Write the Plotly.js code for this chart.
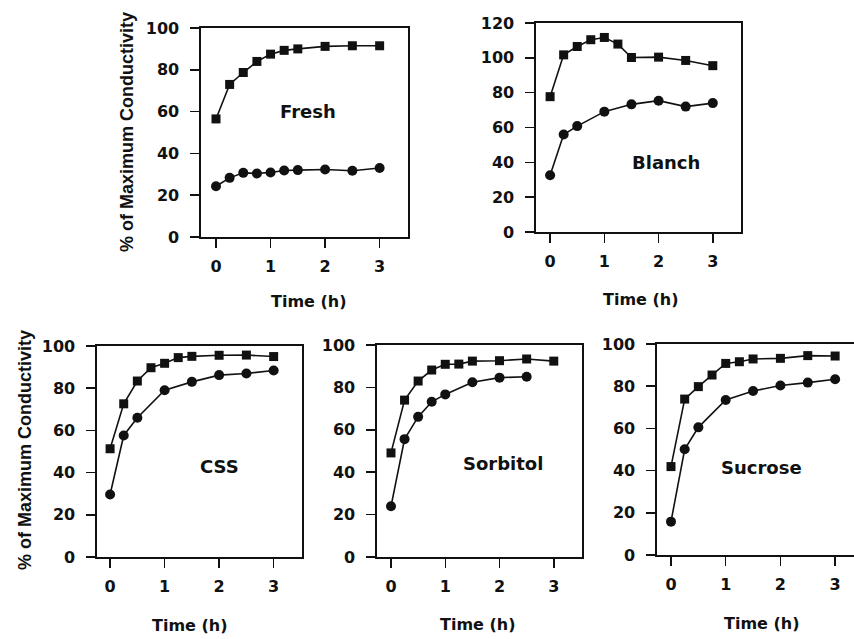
<!DOCTYPE html>
<html>
<head>
<meta charset="utf-8">
<script src="https://cdn.plot.ly/plotly-3.0.1.min.js"></script>
<style>html,body{margin:0;padding:0;background:#fff;}#chart{width:854px;height:639px;}</style>
</head>
<body>
<div id="chart"></div>
<script>
// ---- data ----
const timeSq = [0, 0.25, 0.5, 0.75, 1, 1.25, 1.5, 2, 2.5, 3];
const timeCirc = [0, 0.25, 0.5, 1, 1.5, 2, 2.5, 3];
const timeFreshCirc = [0, 0.25, 0.5, 0.75, 1, 1.25, 1.5, 2, 2.5, 3];
const timeSorbCirc = [0, 0.25, 0.5, 0.75, 1, 1.5, 2, 2.5];

const freshSq = [56.5, 73, 78.7, 84, 87.5, 89.3, 90, 91.2, 91.5, 91.5];
const freshCirc = [24.3, 28.3, 30.7, 30.4, 30.9, 31.8, 32, 32.3, 31.7, 33];
const blanchSq = [77.7, 101.7, 106.5, 110.4, 111.7, 107.9, 100.2, 100.4, 98.5, 95.5];
const blanchCirc = [32.6, 56, 60.8, 69.1, 73.3, 75.4, 72, 74];
const cssSq = [51.3, 72.6, 83.4, 89.7, 91.8, 94.5, 95.1, 95.6, 95.7, 95];
const cssCirc = [29.6, 57.6, 66, 79, 83, 86.2, 87, 88.4];
const sorbSq = [49.1, 74, 83, 88.2, 90.9, 91, 92.4, 92.6, 93.4, 92.4];
const sorbCirc = [23.9, 55.6, 66.1, 73.2, 76.7, 82.4, 84.6, 85];
const sucSq = [41.9, 73.9, 79.8, 85.3, 90.8, 91.6, 92.9, 93.2, 94.5, 94.3];
const sucCirc = [15.8, 50.1, 60.5, 73.5, 77.7, 80.3, 81.7, 83.3];

const panelNames = ['Fresh', 'Blanch', 'CSS', 'Sorbitol', 'Sucrose'];
const xTickVals = [0, 1, 2, 3];
const yTitle = '% of Maximum Conductivity';
const xTitle = 'Time (h)';

// ---- drawing ----
const W = 854, H = 639;
const ink = '#111';
function px(x) { return x / W; }
function py(y) { return 1 - y / H; }

const panels = [
  {sqx: timeSq, sqy: freshSq, cx: timeFreshCirc, cy: freshCirc, dom: [201, 408, 28, 237], xr: [-0.275, 3.52], yr: [0, 100], lab: [1.69, 60], tt: [309, 302]},
  {sqx: timeSq, sqy: blanchSq, cx: timeCirc, cy: blanchCirc, dom: [536, 741, 23, 232], xr: [-0.26, 3.52], yr: [0, 120], lab: [2.14, 40], tt: [641, 299]},
  {sqx: timeSq, sqy: cssSq, cx: timeCirc, cy: cssCirc, dom: [97, 302, 346, 557], xr: [-0.24, 3.52], yr: [0, 100], lab: [2.0, 43], tt: [190, 625]},
  {sqx: timeSq, sqy: sorbSq, cx: timeSorbCirc, cy: sorbCirc, dom: [377, 582, 345, 557], xr: [-0.258, 3.52], yr: [0, 100], lab: [2.06, 44.3], tt: [478, 624]},
  {sqx: timeSq, sqy: sucSq, cx: timeCirc, cy: sucCirc, dom: [657, 854, 344, 555], xr: [-0.256, 3.345], yr: [0, 100], lab: [1.66, 41.7], tt: [762, 623]}
];

const traces = [];
const layout = {
  width: W, height: H,
  margin: {l: 0, r: 0, t: 0, b: 0},
  paper_bgcolor: '#fff', plot_bgcolor: '#fff',
  showlegend: false,
  annotations: []
};
const tickFont = {family: 'DejaVu Sans', size: 16, color: ink, weight: 'bold'};

panels.forEach((p, i) => {
  const n = i === 0 ? '' : String(i + 1);
  const xa = 'x' + n, ya = 'y' + n;
  traces.push({x: p.sqx, y: p.sqy, xaxis: xa, yaxis: ya, type: 'scatter', mode: 'lines+markers',
    line: {color: ink, width: 1.6}, marker: {symbol: 'square', size: 9, color: ink}, cliponaxis: false});
  traces.push({x: p.cx, y: p.cy, xaxis: xa, yaxis: ya, type: 'scatter', mode: 'lines+markers',
    line: {color: ink, width: 1.6}, marker: {symbol: 'circle', size: 10, color: ink}, cliponaxis: false});
  const last = i === 4;
  layout['xaxis' + n] = {
    domain: [px(p.dom[0]), Math.min(1, px(p.dom[1]))], range: p.xr, anchor: ya,
    showline: true, linecolor: ink, linewidth: 1.6, mirror: true,
    ticks: 'outside', ticklen: 9, tickwidth: 1.5, tickcolor: ink,
    tickvals: xTickVals, tickfont: tickFont, ticklabelstandoff: 5,
    showgrid: false, zeroline: false, fixedrange: true
  };
  layout['yaxis' + n] = {
    domain: [py(p.dom[3]), py(p.dom[2])], range: p.yr, anchor: xa,
    showline: true, linecolor: ink, linewidth: 1.6, mirror: last ? false : true,
    ticks: 'outside', ticklen: 9, tickwidth: 1.5, tickcolor: ink,
    dtick: 20, tick0: 0, tickfont: tickFont, ticklabelstandoff: 8,
    showgrid: false, zeroline: false, fixedrange: true
  };
  layout.annotations.push({xref: xa, yref: ya, x: p.lab[0], y: p.lab[1], text: panelNames[i], showarrow: false,
    font: {family: 'DejaVu Sans', size: 18, color: ink, weight: 'bold'}, xanchor: 'center', yanchor: 'middle'});
  layout.annotations.push({xref: 'paper', yref: 'paper', x: px(p.tt[0]), y: py(p.tt[1]), text: xTitle, showarrow: false,
    font: {family: 'DejaVu Sans', size: 16, color: ink, weight: 'bold'}, xanchor: 'center', yanchor: 'middle'});
});

layout.annotations.push({xref: 'paper', yref: 'paper', x: px(127), y: py(132), text: yTitle, textangle: -90, showarrow: false,
  font: {family: 'Liberation Sans', size: 18, color: ink, weight: 'bold'}, xanchor: 'center', yanchor: 'middle'});
layout.annotations.push({xref: 'paper', yref: 'paper', x: px(25), y: py(450), text: yTitle, textangle: -90, showarrow: false,
  font: {family: 'Liberation Sans', size: 18, color: ink, weight: 'bold'}, xanchor: 'center', yanchor: 'middle'});

Plotly.newPlot('chart', traces, layout, {staticPlot: true, displayModeBar: false});
</script>
</body>
</html>
